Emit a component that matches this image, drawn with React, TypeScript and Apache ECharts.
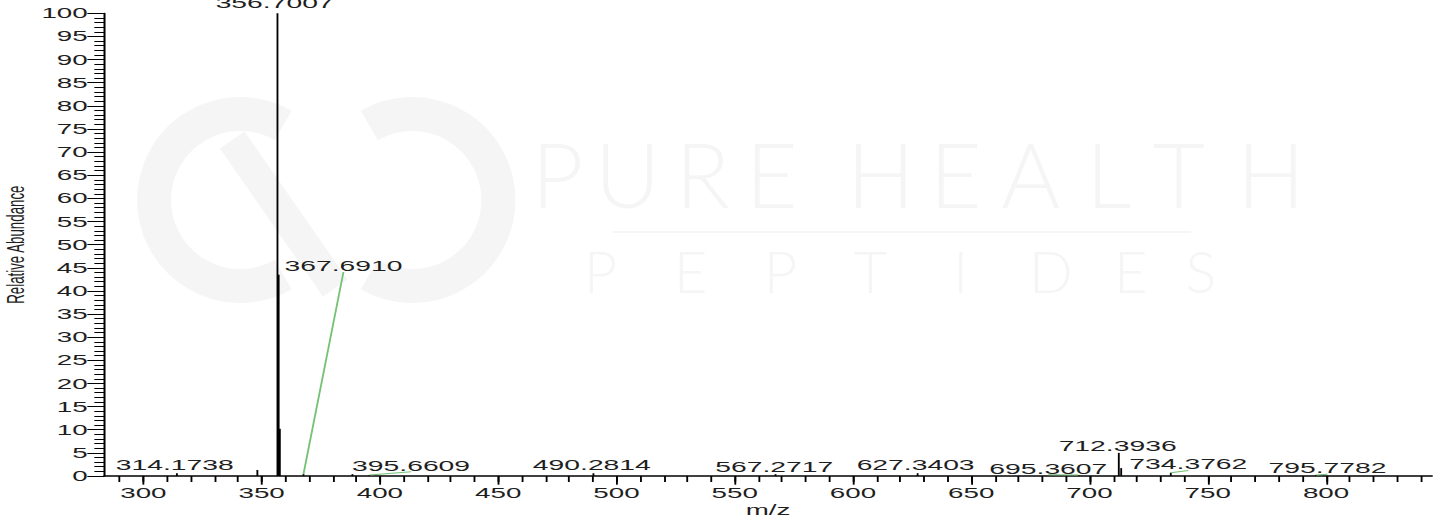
import React, { useEffect, useRef } from "react";
import * as echarts from "echarts";

// ---- data ----
const peakMz = [314.1738, 348.2, 356.7007, 357.2, 357.7, 367.691, 388.4, 395.6609, 490.2814, 567.2717, 627.3403, 695.3607, 712.3936, 713.4, 734.3762, 795.7782];
const peakAbundance = [0.6, 1.3, 100, 43.5, 10.2, 0.4, 0.4, 0.2, 0.6, 0.4, 0.6, 0.2, 5.0, 1.7, 0.7, 0.2];

const labelTexts = ["314.1738", "356.7007", "367.6910", "395.6609", "490.2814", "567.2717", "627.3403", "695.3607", "712.3936", "734.3762", "795.7782"];
const labelPeakMz = [314.1738, 356.7007, 367.691, 395.6609, 490.2814, 567.2717, 627.3403, 695.3607, 712.3936, 734.3762, 795.7782];
const labelPeakAbundance = [0.6, 100, 0.4, 0.2, 0.6, 0.4, 0.6, 0.2, 5.0, 0.7, 0.2];
// where each annotation text sits (data units: m/z, relative abundance)
const labelAtMz = [313.3, 355.5, 384.6, 413.2, 489.6, 566.7, 626.5, 682.6, 711.9, 741.8, 800.6];
const labelAtAbundance = [2.4, 102.3, 45.5, 2.3, 2.4, 2.1, 2.5, 1.7, 6.6, 2.6, 1.8];

const xRange = [283.5, 844.7];
const yRange = [0, 100];
const xMajorTicks = [300, 350, 400, 450, 500, 550, 600, 650, 700, 750, 800];
const xMinorTicks = [290, 300, 310, 320, 330, 340, 350, 360, 370, 380, 390, 400, 410, 420, 430, 440, 450, 460, 470, 480, 490, 500, 510, 520, 530, 540, 550, 560, 570, 580, 590, 600, 610, 620, 630, 640, 650, 660, 670, 680, 690, 700, 710, 720, 730, 740, 750, 760, 770, 780, 790, 800, 810, 820, 830, 840];
const yInterval = 5;

// ---- layout ----
const PAGE_W = 1441;
const PAGE_H = 523;
const CHART_W = 779;
const STRETCH = PAGE_W / CHART_W;
const FONT = '"Liberation Sans", Arial, sans-serif';
const TEXT = "#1e1e1e";

export default function App() {
  const ref = useRef<HTMLDivElement>(null);

  useEffect(() => {
    if (!ref.current) return;
    const chart = echarts.init(ref.current, null, { renderer: "svg" });

    const peakData = peakMz.map((m, i) => [m, peakAbundance[i]]);
    const labelData = labelTexts.map((_, i) => [labelPeakMz[i], labelPeakAbundance[i], labelAtMz[i], labelAtAbundance[i]]);

    const wmColor = "#f5f5f5";
    const ringColor = "#f5f5f6";
    const pure = [
      ["P", 557], ["U", 627], ["R", 702], ["E", 771],
      ["H", 880], ["E", 955], ["A", 1030], ["L", 1108], ["T", 1178], ["H", 1270],
    ];
    const pept = [["P", 600], ["E", 690], ["P", 780], ["T", 870], ["I", 960], ["D", 1050], ["E", 1130], ["S", 1200]];

    chart.setOption({
      animation: false,
      backgroundColor: "#ffffff",
      graphic: [
        {
          type: "group",
          x: 0,
          y: 0,
          scaleX: 1 / STRETCH,
          silent: true,
          z: -10,
          children: [
            { type: "arc", shape: { cx: 240, cy: 200, r: 86, startAngle: Math.PI / 3, endAngle: (5 * Math.PI) / 3, clockwise: true }, style: { stroke: ringColor, lineWidth: 34, fill: null } },
            { type: "arc", shape: { cx: 412, cy: 200, r: 86, startAngle: (4 * Math.PI) / 3, endAngle: (8 * Math.PI) / 3, clockwise: true }, style: { stroke: ringColor, lineWidth: 34, fill: null } },
            { type: "line", shape: { x1: 232, y1: 140, x2: 335, y2: 288 }, style: { stroke: ringColor, lineWidth: 30 } },
            ...pure.map(([ch, x]) => ({ type: "text", style: { text: ch, x, y: 173, align: "center", verticalAlign: "middle", fill: wmColor, fontSize: 90, fontWeight: 300, fontFamily: "Lato, sans-serif" } })),
            { type: "line", shape: { x1: 612, y1: 232, x2: 1190, y2: 232 }, style: { stroke: "#f6f6f6", lineWidth: 2 } },
            ...pept.map(([ch, x]) => ({ type: "text", style: { text: ch, x, y: 271, align: "center", verticalAlign: "middle", fill: wmColor, fontSize: 58, fontWeight: 300, fontFamily: "Lato, sans-serif" } })),
          ],
        },
      ],
      grid: { left: 56.4, right: 5, top: 13.3, bottom: 47, containLabel: false, outerBoundsMode: "none" },
      xAxis: [
        {
          type: "value",
          min: xRange[0],
          max: xRange[1],
          name: "m/z",
          nameLocation: "middle",
          nameGap: 26,
          nameMoveOverlap: false,
          nameTextStyle: { color: TEXT, fontSize: 15, fontFamily: FONT },
          axisLine: { show: true, onZero: false, lineStyle: { color: "#000", width: 1.5 } },
          axisTick: { show: true, length: 8.7, customValues: xMajorTicks, lineStyle: { color: "#000", width: 1 } },
          axisLabel: { show: true, customValues: xMajorTicks, margin: 9, color: TEXT, fontSize: 15, fontFamily: FONT },
          splitLine: { show: false },
        },
        {
          type: "value",
          min: xRange[0],
          max: xRange[1],
          position: "bottom",
          axisLine: { show: false },
          axisTick: { show: true, length: 6, customValues: xMinorTicks, lineStyle: { color: "#000", width: 1 } },
          axisLabel: { show: false },
          splitLine: { show: false },
        },
      ],
      yAxis: {
        type: "value",
        min: yRange[0],
        max: yRange[1],
        interval: yInterval,
        name: "Relative Abundance",
        nameLocation: "middle",
        nameGap: 41.5,
        nameMoveOverlap: false,
        nameTextStyle: { color: TEXT, fontSize: 13.3, fontFamily: FONT },
        axisLine: { show: true, lineStyle: { color: "#000", width: 1.1 } },
        axisTick: { show: true, length: 9.2, lineStyle: { color: "#000", width: 1 } },
        minorTick: { show: true, splitNumber: 5, length: 5.4, lineStyle: { color: "#000", width: 1 } },
        axisLabel: { margin: 9, color: TEXT, fontSize: 15, fontFamily: FONT },
        splitLine: { show: false },
        minorSplitLine: { show: false },
      },
      series: [
        {
          type: "custom",
          name: "peaks",
          xAxisIndex: 0,
          yAxisIndex: 0,
          data: peakData,
          encode: { x: 0, y: 1 },
          renderItem: (params: any, api: any) => {
            const m = api.value(0);
            const a = api.value(1);
            const p0 = api.coord([m, 0]);
            const p1 = api.coord([m, a]);
            return {
              type: "line",
              shape: { x1: p0[0], y1: p0[1], x2: p1[0], y2: p1[1] },
              style: { stroke: "#000", lineWidth: 1 },
            };
          },
        },
        {
          type: "custom",
          name: "labels",
          xAxisIndex: 0,
          yAxisIndex: 0,
          clip: false,
          z: 5,
          data: labelData,
          encode: { x: 0, y: 1 },
          renderItem: (params: any, api: any) => {
            const i = params.dataIndex;
            const pm = api.value(0);
            const pa = api.value(1);
            const lm = api.value(2);
            const la = api.value(3);
            const peak = api.coord([pm, pa]);
            const c = api.coord([lm, la]);
            const children: any[] = [];
            if (Math.abs(lm - pm) > 1.5) {
              children.push({
                type: "line",
                shape: { x1: peak[0], y1: peak[1], x2: c[0], y2: c[1] + 6.5 },
                style: { stroke: "#74c274", lineWidth: 1 },
              });
            }
            children.push({
              type: "text",
              style: {
                text: labelTexts[i],
                x: c[0],
                y: c[1],
                align: "center",
                verticalAlign: "middle",
                fill: TEXT,
                fontSize: 15.3,
                fontFamily: FONT,
              },
            });
            return { type: "group", children };
          },
        },
      ],
    });

    return () => chart.dispose();
  }, []);

  return (
    <div style={{ position: "absolute", left: 0, top: 0, width: PAGE_W, height: PAGE_H, overflow: "hidden", background: "#fff" }}>
      <div
        ref={ref}
        style={{ width: CHART_W, height: PAGE_H, transform: `scaleX(${STRETCH})`, transformOrigin: "0 0" }}
      />
    </div>
  );
}
